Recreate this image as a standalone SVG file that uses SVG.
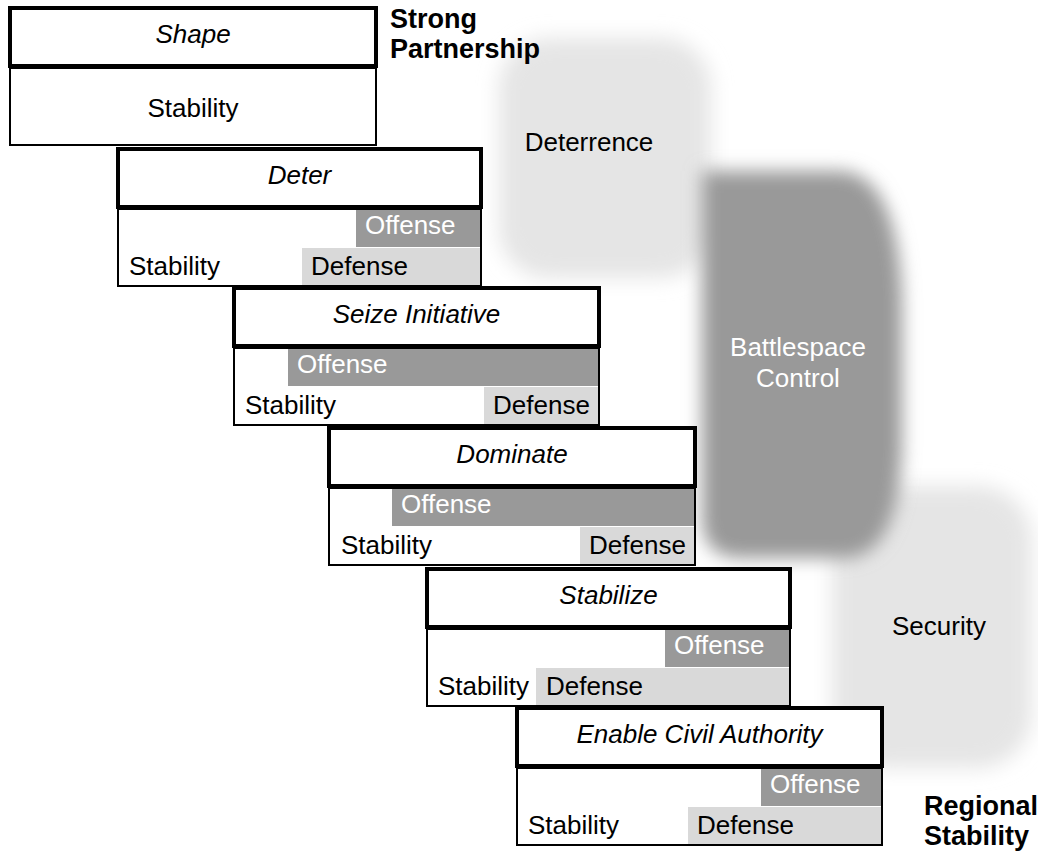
<svg xmlns="http://www.w3.org/2000/svg" width="1038" height="852" viewBox="0 0 1038 852">
  <defs>
    <filter id="soft" x="-25%" y="-25%" width="150%" height="150%">
      <feGaussianBlur stdDeviation="10"/>
    </filter>
    <filter id="soft-dark" x="-25%" y="-25%" width="150%" height="150%">
      <feGaussianBlur stdDeviation="9"/>
    </filter>
    <style>
      text { font-family: "Liberation Sans", Arial, sans-serif; font-size: 26px; fill: #000; }
      .title { font-style: italic; text-anchor: middle; }
      .mid { text-anchor: middle; }
      .light { fill: #fff; }
      .bold { font-weight: bold; font-size: 27px; }
      .head { fill: #fff; stroke: #000; stroke-width: 4; }
      .body { fill: #fff; stroke: #000; stroke-width: 2; }
      .off { fill: #999999; }
      .def { fill: #d9d9d9; }
      .haze { fill: #e5e5e5; filter: url(#soft); }
      .haze-dark { fill: #999999; filter: url(#soft-dark); }
    </style>
  </defs>

  <rect width="1038" height="852" fill="#fff"/>

  <!-- soft background regions -->
  <g id="deterrence">
    <rect class="haze" x="499" y="38" width="212" height="240" rx="50"/>
    <text class="mid" x="589" y="151">Deterrence</text>
  </g>
  <g id="security">
    <rect class="haze" x="832" y="486" width="200" height="282" rx="55"/>
    <text class="mid" x="939" y="635">Security</text>
  </g>
  <g id="battlespace-control">
    <path class="haze-dark" d="M702,171 H838 C884,171 900,230 902,300 V445 C900,515 884,558 842,558 H742 C716,558 702,545 702,518 Z"/>
    <text class="mid light" x="798" y="356">Battlespace</text>
    <text class="mid light" x="798" y="387">Control</text>
  </g>

  <g id="connectors"/>

  <!-- phase blocks -->
  <g id="shape">
    <rect class="body" x="10" y="68" width="366" height="77"/>
    <rect class="head" x="10" y="8" width="366" height="58"/>
    <text class="title" x="193" y="43">Shape</text>
    <text class="mid" x="193" y="117">Stability</text>
  </g>

  <g id="deter">
    <rect class="body" x="118" y="209" width="363" height="77"/>
    <rect class="off" x="356" y="210" width="124" height="37"/>
    <rect class="def" x="302" y="248" width="178" height="37"/>
    <rect class="head" x="118" y="149" width="363" height="58"/>
    <text class="title" x="299.5" y="184">Deter</text>
    <text class="light" x="365" y="234">Offense</text>
    <text x="129" y="275">Stability</text>
    <text x="311" y="275">Defense</text>
  </g>

  <g id="seize-initiative">
    <rect class="body" x="234" y="348" width="365" height="77"/>
    <rect class="off" x="288" y="349" width="310" height="37"/>
    <rect class="def" x="484" y="387" width="114" height="37"/>
    <rect class="head" x="234" y="288" width="365" height="58"/>
    <text class="title" x="416.5" y="323">Seize Initiative</text>
    <text class="light" x="297" y="373">Offense</text>
    <text x="245" y="414">Stability</text>
    <text x="493" y="414">Defense</text>
  </g>

  <g id="dominate">
    <rect class="body" x="329" y="488" width="366" height="77"/>
    <rect class="off" x="392" y="489" width="302" height="37"/>
    <rect class="def" x="580" y="527" width="114" height="37"/>
    <rect class="head" x="329" y="428" width="366" height="58"/>
    <text class="title" x="512" y="463">Dominate</text>
    <text class="light" x="401" y="513">Offense</text>
    <text x="341" y="554">Stability</text>
    <text x="589" y="554">Defense</text>
  </g>

  <g id="stabilize">
    <rect class="body" x="427" y="629" width="363" height="77"/>
    <rect class="off" x="665" y="630" width="124" height="37"/>
    <rect class="def" x="536" y="668" width="253" height="37"/>
    <rect class="head" x="427" y="569" width="363" height="58"/>
    <text class="title" x="608.5" y="604">Stabilize</text>
    <text class="light" x="674" y="654">Offense</text>
    <text x="438" y="695">Stability</text>
    <text x="546" y="695">Defense</text>
  </g>

  <g id="enable-civil-authority">
    <rect class="body" x="517" y="768" width="365" height="77"/>
    <rect class="off" x="761" y="769" width="120" height="37"/>
    <rect class="def" x="688" y="807" width="193" height="37"/>
    <rect class="head" x="517" y="708" width="365" height="58"/>
    <text class="title" x="699.5" y="743">Enable Civil Authority</text>
    <text class="light" x="770" y="793">Offense</text>
    <text x="528" y="834">Stability</text>
    <text x="697" y="834">Defense</text>
  </g>

  <!-- end-state labels -->
  <g id="strong-partnership">
    <text class="bold" x="390" y="28">Strong</text>
    <text class="bold" x="390" y="58">Partnership</text>
  </g>
  <g id="regional-stability">
    <text class="bold" x="924" y="815">Regional</text>
    <text class="bold" x="924" y="845">Stability</text>
  </g>
</svg>
